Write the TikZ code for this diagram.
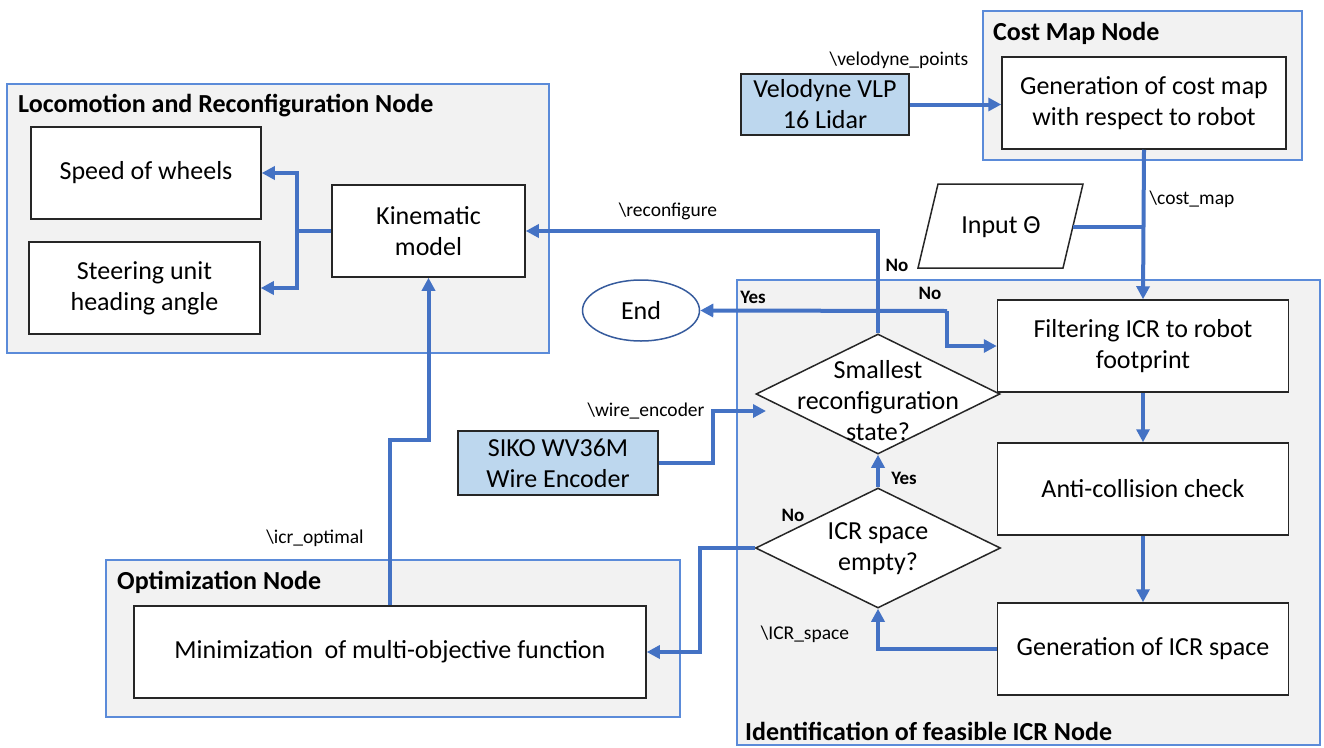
\documentclass[tikz,border=0pt]{standalone}
\usepackage{fontspec}
\setmainfont{Carlito}
\usetikzlibrary{arrows.meta,shapes.geometric}
\definecolor{lnblue}{HTML}{4472C4}
\definecolor{cbord}{HTML}{5B8BD9}
\definecolor{cfill}{HTML}{F2F2F2}
\definecolor{lblue}{HTML}{BDD7EE}
\begin{document}
\begin{tikzpicture}[x=1pt,y=-1pt,
  cont/.style={draw=cbord,line width=1.5pt,fill=cfill,inner sep=0pt},
  box/.style={draw=black!85,line width=1.5pt,fill=white,align=center,inner sep=0pt,font=\fontsize{26}{31}\selectfont},
  sbox/.style={box,fill=lblue},
  sz/.style 2 args={minimum width=#1pt,minimum height=#2pt},
  dia/.style={diamond,draw=black!85,line width=1.5pt,fill=white,inner sep=0pt,aspect=2},
  endnode/.style={ellipse,draw=lnblue!80!black,line width=1.5pt,fill=white,inner sep=0pt,font=\fontsize{26}{31}\selectfont},
  ttl/.style={anchor=west,inner sep=0pt,font=\bfseries\fontsize{26}{31}\selectfont},
  txt/.style={align=center,inner sep=0pt,font=\fontsize{26}{31}\selectfont},
  lbl/.style={inner sep=0pt,font=\fontsize{19.5}{23}\selectfont},
  yn/.style={inner sep=0pt,font=\bfseries\fontsize{19}{23}\selectfont},
  conn/.style={draw=lnblue,line width=4pt},
  arr/.style={conn,-{Triangle[length=13pt,width=13pt]}}
]
\useasboundingbox (0,0) rectangle (1324,747);

% containers
\node[cont,sz={542}{269}] (loco) at (278,218.5) {};
\node[ttl] (locot) at (18,106) {Locomotion and Reconfiguration Node};
\node[cont,sz={319}{149}] (costc) at (1142.5,85.5) {};
\node[ttl] (costt) at (993,33) {Cost Map Node};
\node[cont,sz={583}{465}] (ident) at (1028.5,512.5) {};
\node[ttl] (identt) at (745,731) {Identification of feasible ICR Node};
\node[cont,sz={574}{157}] (optc) at (393,638.5) {};
\node[ttl] (optt) at (117,582) {Optimization Node};

% boxes
\node[box,sz={230}{92}] (speed) at (146,173) {Speed of wheels};
\node[box,sz={231}{92}] (steer) at (144.5,288) {Steering unit\\heading angle};
\node[box,sz={193}{92}] (kin) at (428.5,231) {Kinematic\\model};
\node[box,sz={284}{92}] (gencost) at (1144,103) {Generation of cost map\\with respect to robot};
\node[sbox,sz={168}{61}] (velo) at (825,104.5) {Velodyne VLP\\16 Lidar};
\node[box,sz={291}{92}] (filt) at (1143,346) {Filtering ICR to robot\\footprint};
\node[box,sz={291}{92}] (anti) at (1143,489) {Anti-collision check};
\node[box,sz={291}{92}] (genicr) at (1143,649) {Generation of ICR space};
\node[sbox,sz={200}{64}] (siko) at (558,463) {SIKO WV36M\\Wire Encoder};
\node[box,sz={512}{92}] (minim) at (390,652) {Minimization\ \ of multi-objective function};
\node[endnode,minimum width=117pt,minimum height=61pt] (end) at (641,310.5) {End};

% input parallelogram
\draw[draw=black!85,line width=1.5pt,fill=white] (918,268) -- (938,184) -- (1083,184) -- (1063,268) -- cycle;
\node[txt] (input) at (1001,227) {Input Θ};
\coordinate (inR) at (1073,227);

% diamonds
\node[dia,minimum width=244pt,minimum height=120pt] (d1) at (878,394) {};
\node[txt] (d1t) at (878,401) {Smallest\\reconfiguration\\state?};
\node[dia,minimum width=245pt,minimum height=120pt] (d2) at (878,548) {};
\node[txt] (d2t) at (878,549) {ICR space\\empty?};

% connectors
\draw[conn] (kin.west) -- ++(-34,0) coordinate (kj);
\draw[arr] (kj) |- (speed.east);
\draw[arr] (kj) |- (steer.east);
\draw[arr] (d1.north) |- (kin.east);
\coordinate (j1) at (947,311);
\draw[arr] (j1) -- (end.east);
\draw[arr] (j1) |- (filt.west);
\draw[arr] (velo.east) -- (velo.east -| gencost.west);
\draw[arr] (gencost.south) -- (filt.north);
\draw[conn] (inR) -- (inR -| gencost.south);
\draw[arr] (filt.south) -- (anti.north);
\draw[arr] (anti.south) -- (genicr.north);
\draw[arr] (genicr.west) -| (d2.south);
\draw[arr] (d2.north) -- (d1.south);
\draw[arr] (d2.west) -- ++(-55,0) |- (minim.east);
\coordinate (wend) at (766,411);
\draw[arr] (siko.east) -- ++(54,0) |- (wend);
\draw[arr] (minim.north) -- ++(0,-165) -| (kin.south);

% labels
\node[lbl] (lrec) at (668,211) {\textbackslash reconfigure};
\node[lbl] (lvel) at (899,60) {\textbackslash velodyne\_points};
\node[lbl] (lcost) at (1192,199) {\textbackslash cost\_map};
\node[lbl] (lwire) at (646,411) {\textbackslash wire\_encoder};
\node[lbl] (licr) at (315,538) {\textbackslash icr\_optimal};
\node[lbl] (lspace) at (805,634) {\textbackslash ICR\_space};
\node[yn] (no1) at (897,265) {No};
\node[yn] (yes1) at (753,297) {Yes};
\node[yn] (no2) at (930,293) {No};
\node[yn] (yes2) at (904,478) {Yes};
\node[yn] (no3) at (793,515) {No};
\end{tikzpicture}
\end{document}
